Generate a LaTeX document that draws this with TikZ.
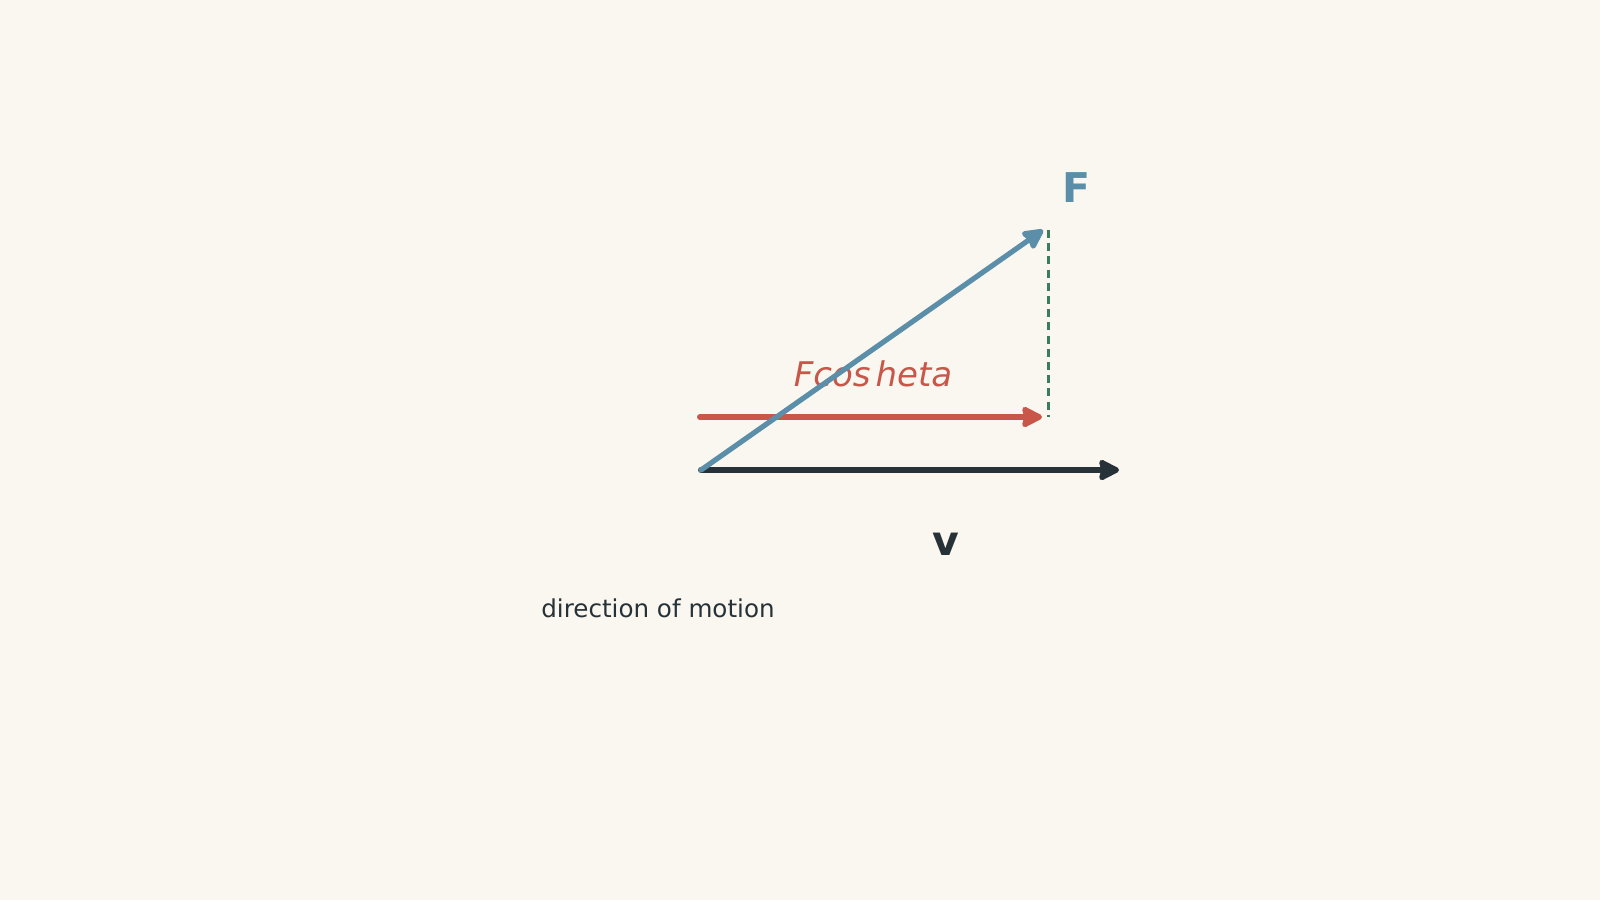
\documentclass[tikz,border=0pt]{standalone}
\usepackage{fontspec}
\setmainfont{DejaVu Sans}
\usetikzlibrary{arrows.meta,positioning}
\definecolor{bgcol}{HTML}{FAF7F0}
\definecolor{forcecol}{HTML}{5B8FA9}
\definecolor{compcol}{HTML}{C8574A}
\definecolor{velcol}{HTML}{263238}
\definecolor{guidecol}{HTML}{3A7D5C}

\begin{document}
\begin{tikzpicture}[x=0.5pt,y=-0.5pt,
    connector/.style={-{Stealth[length=12pt,width=12pt,inset=1.5pt,round]},line cap=round,line join=round},
    guide/.style={guidecol,line width=1.5pt,dash pattern=on 4pt off 2.6pt},
    label/.style={inner sep=0pt}]
    % background and frame
    \fill[bgcol] (0,0) rectangle (1600,900);
    \useasboundingbox (0,0) rectangle (1600,900);

    % Points of the sketch
    \coordinate (origin) at (701,470);
    \coordinate (v_tip) at (1119,470);
    \coordinate (f_tip) at (1043,230);
    \coordinate (comp_start) at (700,417);
    \coordinate (comp_tip) at (1042,417);
    \coordinate (proj_top) at (1048,230);
    \coordinate (proj_bottom) at (1048,417);

    % Labels
    \node (f_label) [label,text=forcecol,font=\bfseries\fontsize{20.5}{24}\selectfont] at (1076,188) {F};
    \node (v_label) [label,text=velcol,font=\bfseries\fontsize{20.5}{24}\selectfont] at (946,544) {v};
    \node (comp_label) [label,text=compcol,font=\itshape\fontsize{17}{20}\selectfont] at (873,374) {Fcos\hspace{0.15em}heta};
    \node (motion_label) [label,text=velcol,font=\fontsize{12.3}{15}\selectfont] at (658,608) {direction of motion};

    % Vectors
    \draw[guide] (proj_top) -- (proj_bottom);
    \draw[connector,compcol,line width=3pt] (comp_start) -- (comp_tip);
    \draw[connector,velcol,line width=3pt] (origin) -- (v_tip);
    \draw[connector,forcecol,line width=2.6pt] (origin) -- (f_tip);

  \end{tikzpicture}
\end{document}
